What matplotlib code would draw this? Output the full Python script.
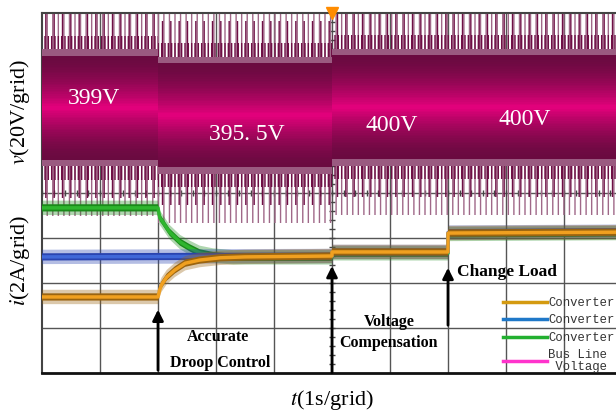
import numpy as np
import matplotlib
matplotlib.use("Agg")
from matplotlib import pyplot as plt
from matplotlib.colors import to_rgb

# bus voltage (in grid divisions), step times in s
t_v = [0, 2, 2, 5, 5, 10]
v_mid = [5.89, 5.89, 5.73, 5.73, 5.91, 5.91]
v_labels = ["399V", "395. 5V", "400V", "400V"]
v_label_t = [0.9, 3.53, 6.03, 8.33]
v_label_y = [6.09, 5.29, 5.51, 5.64]

# converter currents (grid divisions)
t_orange = [0, 2.0, 2.03, 2.06, 2.15, 2.29, 2.47, 2.72, 3.07, 3.5, 5.0, 5.0, 7.0, 7.0, 10]
i_orange = [1.69, 1.69, 1.85, 1.96, 2.13, 2.29, 2.44, 2.51, 2.56, 2.58, 2.6, 2.69, 2.69, 3.11, 3.13]
t_green = [0, 2.0, 2.03, 2.06, 2.2, 2.38, 2.55, 2.72, 2.95, 3.3, 5.0, 5.0, 7.0, 7.0, 10]
i_green = [3.67, 3.67, 3.45, 3.40, 3.13, 2.91, 2.78, 2.67, 2.61, 2.57, 2.57, 2.66, 2.66, 3.09, 3.11]
t_blue = [0, 5, 5, 7, 7, 10]
i_blue = [2.58, 2.6, 2.69, 2.69, 3.12, 3.14]

legend_labels = ["Converter", "Converter", "Converter", "Bus Line\n Voltage"]
legend_colors = ["#d49a10", "#1f78c8", "#22b030", "#ff33cc"]

plt.rcParams["hatch.linewidth"] = 1.0
fig = plt.figure(figsize=(6.16, 4.11), dpi=100)
ax = fig.add_axes([42 / 616, 38 / 411, 580 / 616, 360 / 411])
ax.set_xlim(0, 10)
ax.set_ylim(0, 8)

# grid
for x in range(1, 10):
    ax.axvline(x, color="#555555", lw=1.0, zorder=1)
for y in range(1, 8):
    ax.axhline(y, color="#555555", lw=1.0, zorder=1)
ax.plot(np.full(40, 5.0), np.arange(0, 8, 0.2), ls="none", marker="_", ms=5,
        color="#444444", mew=1, zorder=1)
ax.plot(np.arange(0, 10, 0.2), np.full(50, 4.0), ls="none", marker="|", ms=4,
        color="#444444", mew=1, zorder=1)

tv = np.array(t_v)
vm = np.array(v_mid)
# voltage noise: sparse spikes, dense band, bright core
ax.fill_between(tv, vm - 2.4, vm + 2.6, facecolor="none", edgecolor="#a06888",
                hatch="|||", lw=0, zorder=2)
ax.fill_between(tv, vm - 2.0, vm + 2.1, facecolor="none", edgecolor="#6e0f45",
                hatch="||", lw=0, zorder=2)
ax.fill_between(tv, vm - 1.6, vm + 1.6, facecolor="none", edgecolor="#6e0f45",
                hatch="|||||", lw=0, zorder=2)
ax.fill_between(tv, vm - 1.3, vm + 1.3, facecolor="#9a5a80", lw=0, zorder=3)
dark = np.array(to_rgb("#6a0a40"))
bright = np.array(to_rgb("#e8007e"))
for w in np.linspace(1.15, 0.04, 30):
    f = (1 - w / 1.15) ** 1.6
    ax.fill_between(tv, vm - w, vm + w, facecolor=dark + (bright - dark) * f, lw=0, zorder=3)

for s, x, y in zip(v_labels, v_label_t, v_label_y):
    ax.text(x, y, s, color="white", fontsize=17, family="Liberation Serif",
            ha="center", va="center", zorder=6)

# currents
for t, i, outer, core, z in [(t_green, i_green, "#1a8a1a", "#2fb52f", 4),
                             (t_blue, i_blue, "#2a44b0", "#4068d8", 4.1),
                             (t_orange, i_orange, "#9a6410", "#f0a020", 4.2)]:
    t = np.array(t)
    i = np.array(i)
    ax.fill_between(t, i - 0.16, i + 0.16, facecolor=outer, alpha=0.35, lw=0, zorder=z)
    ax.fill_between(t, i - 0.08, i + 0.08, facecolor=outer, lw=0, zorder=z)
    ax.plot(t, i, color=core, lw=2.5, zorder=z)

# arrows and annotations
arrow = dict(arrowstyle="-|>", color="black", lw=2, mutation_scale=16)
ax.annotate("", xy=(2.0, 1.47), xytext=(2.0, 0.0), arrowprops=arrow, zorder=7)
ax.annotate("", xy=(5.0, 2.44), xytext=(5.0, -0.05), arrowprops=arrow, zorder=7)
ax.annotate("", xy=(7.0, 2.4), xytext=(7.0, 1.0), arrowprops=arrow, zorder=7)
bold = dict(family="Liberation Serif", fontweight="bold", fontsize=11.5,
            ha="center", va="center", zorder=8)
ax.text(3.03, 0.8, "Accurate", **bold)
ax.text(3.07, 0.22, "Droop Control", **bold)
ax.text(5.98, 1.13, "Voltage", **bold)
ax.text(5.98, 0.67, "Compensation", **bold)
ax.text(8.02, 2.24, "Change Load", family="Liberation Serif", fontweight="bold",
        fontsize=12.5, ha="center", va="center", zorder=8)

# trigger marker
ax.plot([5.0], [8.0], marker="v", ms=9, color="#ff8c00", clip_on=False, zorder=9)

# legend
handles = [plt.Line2D([], [], color=c, lw=2.5) for c in legend_colors]
leg = ax.legend(handles, legend_labels, loc="upper left", bbox_to_anchor=(0.782, 0.232),
                frameon=False, handlelength=3.6, handletextpad=0.12, labelspacing=0.45,
                borderaxespad=0.2, prop={"family": "Liberation Mono", "size": 8.8})
for txt in leg.get_texts():
    txt.set_color("#333333")
    txt.set_linespacing(0.95)

for side in ["top", "left"]:
    ax.spines[side].set_color("#444444")
    ax.spines[side].set_linewidth(1.5)
ax.spines["bottom"].set_color("#111111")
ax.spines["bottom"].set_linewidth(2)
ax.spines["right"].set_visible(False)
ax.set_xticks([])
ax.set_yticks([])

serif = "Liberation Serif"
fig.text(20 / 616, 1 - 112 / 411, r"$v$(20V/grid)", rotation=90, ha="center", va="center",
         fontsize=16, family=serif, math_fontfamily="stix")
fig.text(20 / 616, 1 - 260 / 411, r"$i$(2A/grid)", rotation=90, ha="center", va="center",
         fontsize=16, family=serif, math_fontfamily="stix")
fig.text(332 / 616, 1 - 400 / 411, r"$t$(1s/grid)", ha="center", va="center",
         fontsize=16, family=serif, math_fontfamily="stix")

fig.savefig("out.png", dpi=100)
